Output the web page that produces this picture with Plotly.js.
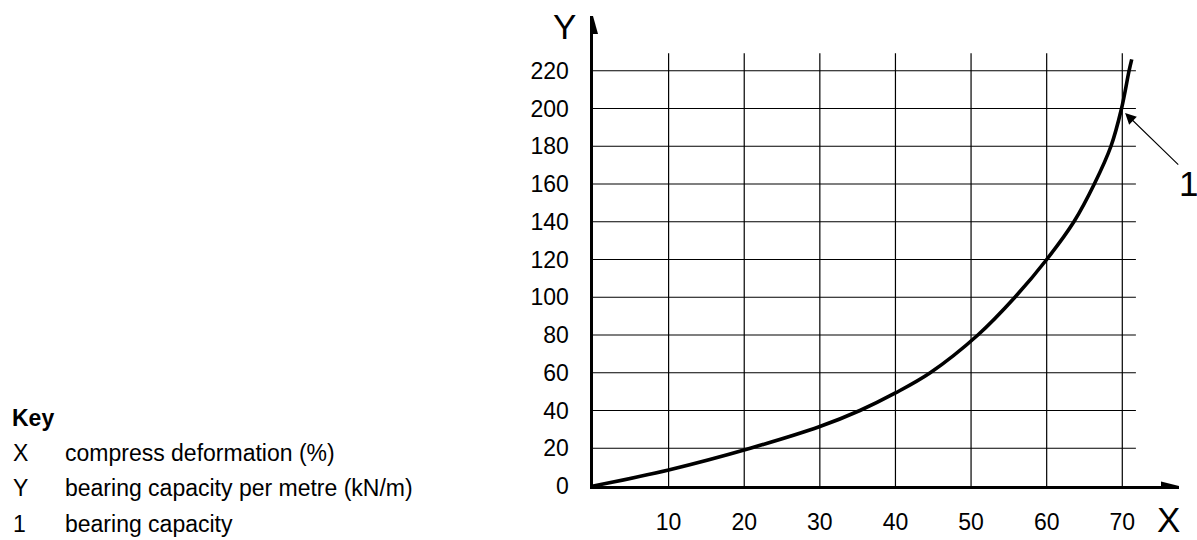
<!DOCTYPE html>
<html>
<head>
<meta charset="utf-8">
<script src="https://cdn.plot.ly/plotly-3.0.1.min.js"></script>
<style>html,body{margin:0;padding:0;background:#fff;}#chart{width:1197px;height:540px;}</style>
</head>
<body>
<div id="chart"></div>
<script>
// ---- data ----
const deformation = [0, 10, 20.8, 30, 35.3, 40, 44.6, 50.9, 55.8, 60, 63.6, 66.3, 68.5, 69.9, 70.9, 71.25];
const capacity    = [0, 8.5, 20, 31.5, 40, 49.3, 60, 80, 100, 120, 140, 160, 180, 200, 220, 226];
const xTicks = [10, 20, 30, 40, 50, 60, 70];
const yTicks = [0, 20, 40, 60, 80, 100, 120, 140, 160, 180, 200, 220];
const keyLetters = ["X", "Y", "1"];
const keyTexts = ["compress deformation (%)", "bearing capacity per metre (kN/m)", "bearing capacity"];
const markerPoint = {x: 70.37, y: 197.6};
const markerTail = {x: 77.6, y: 169.5};

// ---- layout helpers ----
const W = 1197, H = 540;
const M = {l: 593, r: 18, t: 16, b: 54};
const PW = W - M.l - M.r, PH = H - M.t - M.b;
const px = p => (p - M.l) / PW;
const py = p => (H - M.b - p) / PH;
const FONT = 'Arial, "Liberation Sans", sans-serif';
const XMAX = 77.5, YMAX = 249;
const gridTop = 229.2, gridRight = 71.8;

const shapes = [];
xTicks.forEach(v => shapes.push({type: 'line', xref: 'x', yref: 'y', x0: v, x1: v, y0: 0, y1: gridTop,
  line: {color: '#000', width: 1.2}, layer: 'below'}));
yTicks.filter(v => v > 0).forEach(v => shapes.push({type: 'line', xref: 'x', yref: 'y', x0: 0, x1: gridRight, y0: v, y1: v,
  line: {color: '#000', width: 1.2}, layer: 'below'}));
// axis arrow heads
shapes.push({type: 'path', xref: 'x', yref: 'y', xsizemode: 'pixel', ysizemode: 'pixel', xanchor: XMAX, yanchor: 0,
  path: 'M0,0L-18,-4.5L-18,4.5Z', fillcolor: '#000', line: {width: 0}});
shapes.push({type: 'path', xref: 'x', yref: 'y', xsizemode: 'pixel', ysizemode: 'pixel', xanchor: 0, yanchor: YMAX,
  path: 'M0,0L-5,-18L5,-18Z', fillcolor: '#000', line: {width: 0}});

const big = {size: 35, family: FONT, color: '#000'};
const small = {size: 23, family: FONT, color: '#000'};
const annotations = [
  {xref: 'paper', yref: 'paper', x: px(564), y: py(26), xanchor: 'center', yanchor: 'middle', text: 'Y', showarrow: false, font: big},
  {xref: 'paper', yref: 'paper', x: px(1168), y: py(519), xanchor: 'center', yanchor: 'middle', text: 'X', showarrow: false, font: big},
  {xref: 'paper', yref: 'paper', x: px(1188), y: py(184), xanchor: 'center', yanchor: 'middle', text: '1', showarrow: false, font: big},
  {xref: 'x', yref: 'y', axref: 'x', ayref: 'y', x: markerPoint.x, y: markerPoint.y, ax: markerTail.x, ay: markerTail.y,
   text: '', showarrow: true, arrowhead: 2, arrowsize: 2, arrowwidth: 1.1, arrowcolor: '#000'},
  {xref: 'paper', yref: 'paper', x: px(10), y: py(418), xanchor: 'left', yanchor: 'middle', text: '<b>Key</b>', showarrow: false,
   font: small}
];
const keyRows = [453, 488, 524];
keyLetters.forEach((k, i) => {
  annotations.push({xref: 'paper', yref: 'paper', x: px(11), y: py(keyRows[i]), xanchor: 'left', yanchor: 'middle', text: k,
    showarrow: false, font: small});
  annotations.push({xref: 'paper', yref: 'paper', x: px(63), y: py(keyRows[i]), xanchor: 'left', yanchor: 'middle', text: keyTexts[i],
    showarrow: false, font: small});
});

const trace = {x: deformation, y: capacity, type: 'scatter', mode: 'lines',
  line: {color: '#000', width: 3.6, shape: 'spline', smoothing: 1}, hoverinfo: 'skip'};

const layout = {
  width: W, height: H, margin: M, paper_bgcolor: '#fff', plot_bgcolor: '#fff', showlegend: false,
  font: {family: FONT, color: '#000'},
  xaxis: {range: [0, XMAX], tickvals: xTicks, ticktext: xTicks.map(String), showgrid: false, zeroline: false,
    showline: true, linecolor: '#000', linewidth: 2.6, ticks: 'outside', ticklen: 14, tickcolor: 'rgba(0,0,0,0)',
    tickfont: small, fixedrange: true},
  yaxis: {range: [0, YMAX], tickvals: yTicks, ticktext: yTicks.map(String), showgrid: false, zeroline: false,
    showline: true, linecolor: '#000', linewidth: 2.6, ticks: 'outside', ticklen: 17, tickcolor: 'rgba(0,0,0,0)',
    tickfont: small, fixedrange: true},
  shapes: shapes, annotations: annotations
};

Plotly.newPlot('chart', [trace], layout, {displayModeBar: false, staticPlot: true});
</script>
</body>
</html>
